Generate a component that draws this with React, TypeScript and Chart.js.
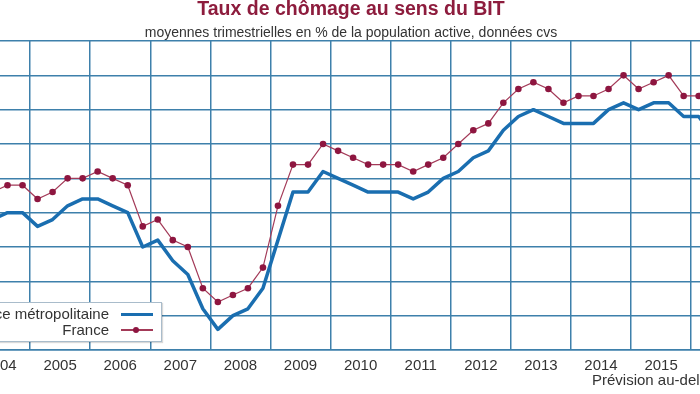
import React, { useEffect, useRef } from "react";
import { Chart, registerables } from "chart.js";

Chart.register(...registerables);

// Quarter categories (T = trimestre)
const quarters: string[] = [
  "2004T1", "2004T2", "2004T3", "2004T4",
  "2005T1", "2005T2", "2005T3", "2005T4",
  "2006T1", "2006T2", "2006T3", "2006T4",
  "2007T1", "2007T2", "2007T3", "2007T4",
  "2008T1", "2008T2", "2008T3", "2008T4",
  "2009T1", "2009T2", "2009T3", "2009T4",
  "2010T1", "2010T2", "2010T3", "2010T4",
  "2011T1", "2011T2", "2011T3", "2011T4",
  "2012T1", "2012T2", "2012T3", "2012T4",
  "2013T1", "2013T2", "2013T3", "2013T4",
  "2014T1", "2014T2", "2014T3", "2014T4",
  "2015T1", "2015T2", "2015T3", "2015T4",
  "2016T1", "2016T2",
];

// France métropolitaine (%)
const metroValues: number[] = [
  8.4, 8.4, 8.5, 8.5,
  8.3, 8.4, 8.6, 8.7,
  8.7, 8.6, 8.5, 8.0,
  8.1, 7.8, 7.6, 7.1,
  6.8, 7.0, 7.1, 7.4,
  8.1, 8.8, 8.8, 9.1,
  9.0, 8.9, 8.8, 8.8,
  8.8, 8.7, 8.8, 9.0,
  9.1, 9.3, 9.4, 9.7,
  9.9, 10.0, 9.9, 9.8,
  9.8, 9.8, 10.0, 10.1,
  10.0, 10.1, 10.1, 9.9,
  9.9, 9.6,
];

// France (%)
const franceValues: number[] = [
  8.8, 8.8, 8.9, 8.9,
  8.7, 8.8, 9.0, 9.0,
  9.1, 9.0, 8.9, 8.3,
  8.4, 8.1, 8.0, 7.4,
  7.2, 7.3, 7.4, 7.7,
  8.6, 9.2, 9.2, 9.5,
  9.4, 9.3, 9.2, 9.2,
  9.2, 9.1, 9.2, 9.3,
  9.5, 9.7, 9.8, 10.1,
  10.3, 10.4, 10.3, 10.1,
  10.2, 10.2, 10.3, 10.5,
  10.3, 10.4, 10.5, 10.2,
  10.2, 10.1,
];

// Year labels on the x axis
const yearLabels: number[] = [2004, 2005, 2006, 2007, 2008, 2009, 2010, 2011, 2012, 2013, 2014, 2015];
// Year boundaries (vertical grid lines)
const yearBounds: number[] = [2005, 2006, 2007, 2008, 2009, 2010, 2011, 2012, 2013, 2014, 2015, 2016];

const TITLE = "Taux de chômage au sens du BIT";
const SUBTITLE = "moyennes trimestrielles en % de la population active, données cvs";
const NOTE = "Prévision au-delà du pointillé";
const METRO_LABEL = "France métropolitaine";
const FRANCE_LABEL = "France";

const FONT = "'Liberation Sans', Arial, Helvetica, sans-serif";
const GRID = "#3e80ab";
const BLUE = "#1a6eb0";
const RED_LINE = "#a33a58";
const RED_DOT = "#8e1640";

function toPoints(values: number[]) {
  return quarters.map((q, i) => {
    const year = parseInt(q.slice(0, 4), 10);
    const qi = parseInt(q.slice(5), 10);
    return { x: year + (qi - 0.5) / 4, y: values[i] };
  });
}

export default function App() {
  const canvasRef = useRef<HTMLCanvasElement | null>(null);

  useEffect(() => {
    if (!canvasRef.current) return;
    const tickValues = [...yearBounds, ...yearLabels.map((y) => y + 0.5)].sort((a, b) => a - b);
    const chart = new Chart(canvasRef.current, {
      type: "line",
      data: {
        datasets: [
          {
            label: FRANCE_LABEL,
            data: toPoints(franceValues),
            borderColor: RED_LINE,
            borderWidth: 1.2,
            pointRadius: 3.3,
            pointBackgroundColor: RED_DOT,
            pointBorderColor: RED_DOT,
            pointBorderWidth: 0,
            tension: 0,
            order: 1,
          },
          {
            label: METRO_LABEL,
            data: toPoints(metroValues),
            borderColor: BLUE,
            borderWidth: 3.5,
            pointRadius: 0,
            tension: 0,
            borderJoinStyle: "round",
            order: 2,
          },
        ],
      },
      options: {
        responsive: false,
        animation: false,
        devicePixelRatio: 1,
        layout: { autoPadding: false, padding: { top: 41, bottom: 20, left: 0, right: 0 } },
        plugins: {
          legend: { display: false },
          title: { display: false },
          tooltip: { enabled: false },
        },
        scales: {
          x: {
            type: "linear",
            min: 2004.5,
            max: 2016.147,
            afterBuildTicks: (scale: any) => {
              scale.ticks = tickValues.map((v) => ({ value: v }));
            },
            afterFit: (scale: any) => {
              scale.height = 24;
              scale.paddingLeft = 0;
              scale.paddingRight = 0;
            },
            grid: {
              color: (ctx: any) =>
                ctx.tick && Number.isInteger(ctx.tick.value) ? GRID : "rgba(0,0,0,0)",
              lineWidth: 1.5,
              drawTicks: false,
            },
            border: { display: true, color: GRID, width: 1.5 },
            ticks: {
              autoSkip: false,
              maxRotation: 0,
              padding: 7,
              color: "#333",
              font: { size: 15, family: FONT },
              callback: (v: any) => (Number(v) % 1 !== 0 ? String(Math.floor(Number(v))) : ""),
            },
          },
          y: {
            min: 6.5,
            max: 11,
            afterFit: (scale: any) => {
              scale.width = 0;
            },
            ticks: { display: false, stepSize: 0.5 },
            grid: { color: GRID, lineWidth: 1.5, drawTicks: false },
            border: { display: false },
          },
        },
      },
    });
    return () => chart.destroy();
  }, []);

  const abs = (s: React.CSSProperties): React.CSSProperties => ({ position: "absolute", whiteSpace: "nowrap", ...s });

  return (
    <div
      style={{
        position: "fixed",
        left: 0,
        top: 0,
        width: 700,
        height: 394,
        overflow: "hidden",
        background: "#fff",
        fontFamily: FONT,
      }}
    >
      <canvas ref={canvasRef} width={700} height={394} style={{ position: "absolute", left: 0, top: 0, display: "block" }} />
      <div
        style={abs({
          left: 0,
          top: -2,
          width: 702,
          textAlign: "center",
          fontSize: 19.5,
          lineHeight: "20px",
          fontWeight: "bold",
          color: "#8d1c3d",
        })}
      >
        {TITLE}
      </div>
      <div
        style={abs({
          left: 0,
          top: 24,
          width: 702,
          textAlign: "center",
          fontSize: 14,
          lineHeight: "16px",
          color: "#333",
        })}
      >
        {SUBTITLE}
      </div>
      <div
        style={abs({
          left: -60,
          top: 302,
          width: 222,
          height: 40,
          boxSizing: "border-box",
          background: "#fff",
          border: "1px solid #a9bccb",
          boxShadow: "1px 1px 1px rgba(0,0,0,0.15)",
        })}
      />
      <div style={abs({ right: 700 - 109, top: 306, fontSize: 15, lineHeight: "16px", color: "#333" })}>
        {METRO_LABEL}
      </div>
      <div style={abs({ left: 121, top: 312.5, width: 32, height: 3.5, background: BLUE })} />
      <div style={abs({ right: 700 - 109, top: 322, fontSize: 15, lineHeight: "16px", color: "#333" })}>
        {FRANCE_LABEL}
      </div>
      <div style={abs({ left: 121, top: 329.4, width: 32, height: 1.2, background: RED_LINE })} />
      <div
        style={abs({ left: 132.7, top: 326.7, width: 6.6, height: 6.6, borderRadius: "50%", background: RED_DOT })}
      />
      <div style={abs({ left: 592, top: 372, fontSize: 15, lineHeight: "16px", color: "#333" })}>{NOTE}</div>
    </div>
  );
}
